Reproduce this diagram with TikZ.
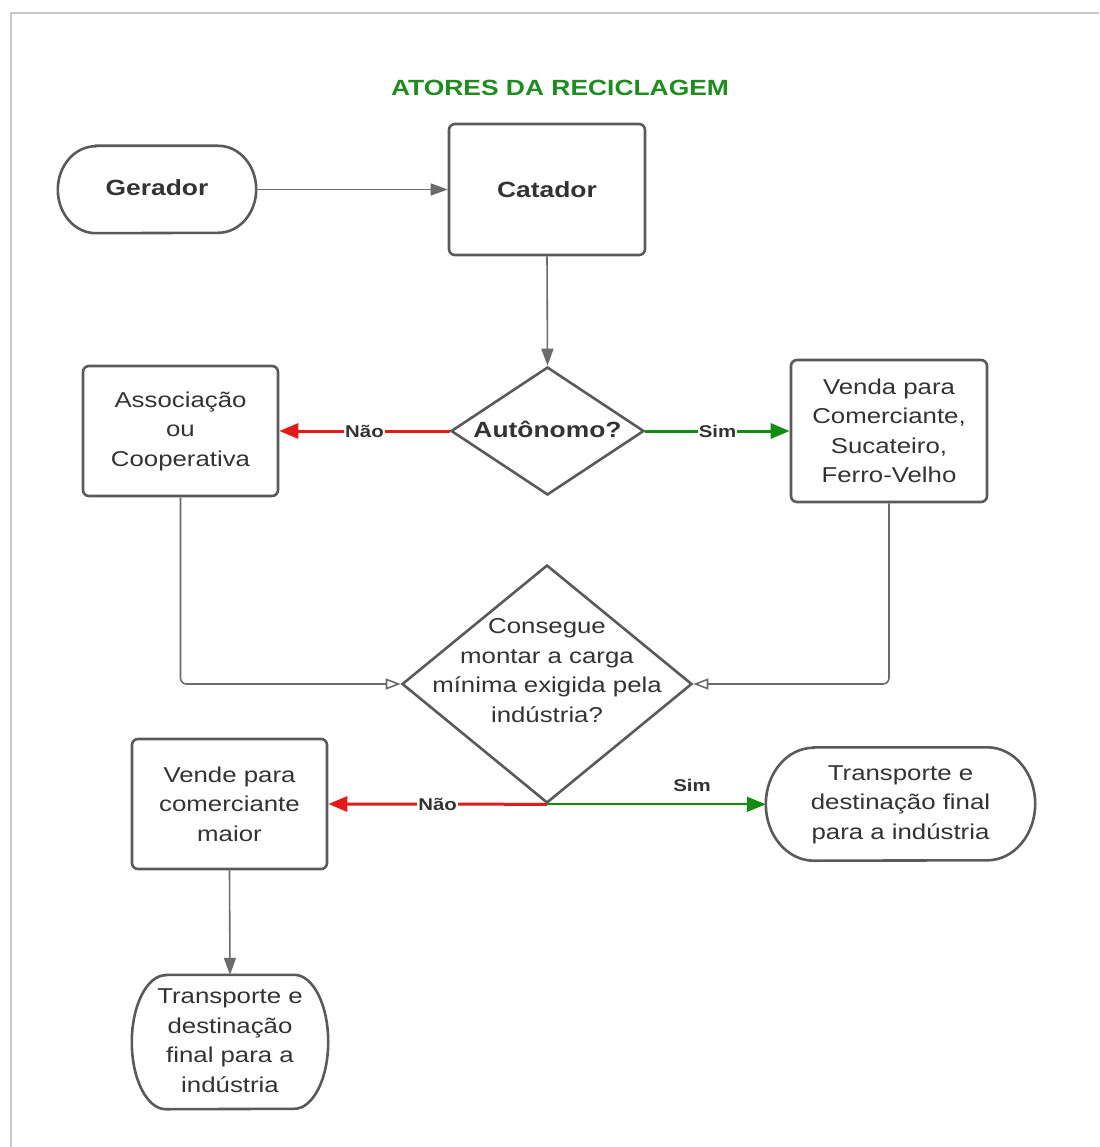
\documentclass[tikz,border=0pt]{standalone}
\usepackage{fontspec}
\setmainfont{Liberation Sans}[FakeStretch=1.2]
\usetikzlibrary{shapes.geometric,arrows.meta}
\definecolor{shapeline}{HTML}{5A5A5A}
\definecolor{connline}{HTML}{6B6B6B}
\definecolor{txt}{HTML}{333333}
\definecolor{nored}{HTML}{E31A1A}
\definecolor{yesgreen}{HTML}{128C12}
\definecolor{titlegreen}{HTML}{1E8C1E}
\definecolor{framegray}{HTML}{C8C8C8}
\newcommand\regtext{\fontsize{21.5}{29.5}\selectfont}
\newcommand\boldtext{\fontsize{22}{28}\selectfont\bfseries}
\newcommand\mytermshape[3]{%
  \draw[shapeline style] ([xshift=#2pt]#1.north west) -- ([xshift=-#2pt]#1.north east)
    arc[start angle=90,end angle=-90,x radius=#2pt,y radius=#3pt]
    -- ([xshift=#2pt]#1.south west)
    arc[start angle=270,end angle=90,x radius=#2pt,y radius=#3pt] -- cycle;}
\tikzset{
  shapeline style/.style={draw=shapeline,line width=2.6pt},
  boxnode/.style={shapeline style,rounded corners=6pt,rectangle,inner sep=0pt,align=center,text=txt,font=\regtext},
  termnode/.style={rectangle,inner sep=0pt,align=center,text=txt,font=\regtext},
  decnode/.style={shapeline style,diamond,inner sep=0pt},
  dectext/.style={align=center,text=txt,inner sep=0pt},
  conn/.style={draw=connline,line width=1.6pt,-{Triangle[length=17pt,width=12pt]}},
  openconn/.style={draw=connline,line width=1.6pt,rounded corners=6pt,-{Triangle[open,length=15pt,width=11pt,fill=white]}},
  noline/.style={draw=nored,line width=3pt,-{Triangle[length=19pt,width=15pt]}},
  simline/.style={draw=yesgreen,line width=3pt,-{Triangle[length=19pt,width=15pt]}},
  simthin/.style={draw=yesgreen,line width=1.8pt,-{Triangle[length=19pt,width=15pt]}},
  edgelabel/.style={font=\fontsize{17}{19}\selectfont\bfseries,text=txt,inner sep=1pt}
}
\begin{document}
\begin{tikzpicture}[x=1pt,y=-1pt]
\useasboundingbox (0,0) rectangle (1099,1147);
\fill[white] (0,0) rectangle (1099,1147);
\draw[framegray,line width=2.2pt] (11,1147) -- (11,13) -- (1099,13);

\node[text=titlegreen,font=\fontsize{22}{26}\selectfont\bfseries] (title) at (560,88) {ATORES DA RECICLAGEM};

% terminators
\node[termnode,minimum width=198pt,minimum height=87pt,font=\boldtext] (ger) at (157,189.5) {\raisebox{3pt}{Gerador}};
\mytermshape{ger}{38}{43.5}
\node[termnode,minimum width=269pt,minimum height=113pt] (trans) at (900.5,804) {\raisebox{-3pt}{\begin{tabular}{@{}c@{}}Transporte e\\destinação final\\para a indústria\end{tabular}}};
\mytermshape{trans}{48}{56.5}
\node[termnode,minimum width=196pt,minimum height=134pt] (trans2) at (230,1042) {\raisebox{-2pt}{\begin{tabular}{@{}c@{}}Transporte e\\destinação\\final para a\\indústria\end{tabular}}};
\mytermshape{trans2}{34}{67}

% boxes
\node[boxnode,minimum width=196pt,minimum height=131pt,font=\boldtext] (cat) at (547,189.5) {Catador};
\node[boxnode,minimum width=195pt,minimum height=130pt] (assoc) at (180.5,431) {Associação\\ou\\Cooperativa};
\node[boxnode,minimum width=196pt,minimum height=142pt] (venda) at (889,431) {Venda para\\Comerciante,\\Sucateiro,\\Ferro-Velho};
\node[boxnode,minimum width=195pt,minimum height=130pt] (vende) at (229.5,804) {Vende para\\comerciante\\maior};

% decisions
\node[decnode,minimum width=193pt,minimum height=128pt] (d1) at (547.5,431) {};
\node[dectext,font=\boldtext] (d1t) at (547.5,429) {Autônomo?};
\node[decnode,minimum width=290pt,minimum height=238pt] (d2) at (547,684) {};
\node[dectext,font=\regtext] (d2t) at (547,670.5) {Consegue\\montar a carga\\mínima exigida pela\\indústria?};

% connectors
\draw[conn] (ger.east) -- (cat.west);
\draw[conn] (cat.south) -- (d1.north);
\draw[noline] (d1.west) -- (assoc.east) node[edgelabel,fill=white,pos=0.5] (l1) {Não};
\draw[simline] (d1.east) -- (venda.west) node[edgelabel,fill=white,pos=0.5] (l2) {Sim};
\draw[openconn] (assoc.south) |- (d2.west);
\draw[openconn] (venda.south) |- (d2.east);
\draw[noline] (d2.south) -- (vende.east) node[edgelabel,fill=white,pos=0.5] (l3) {Não};
\draw[simthin] (d2.south) -- (d2.south -| trans.west);
\node[edgelabel] (l4) at (692,785) {Sim};
\draw[conn] (vende.south) -- (trans2.north);
\end{tikzpicture}
\end{document}
